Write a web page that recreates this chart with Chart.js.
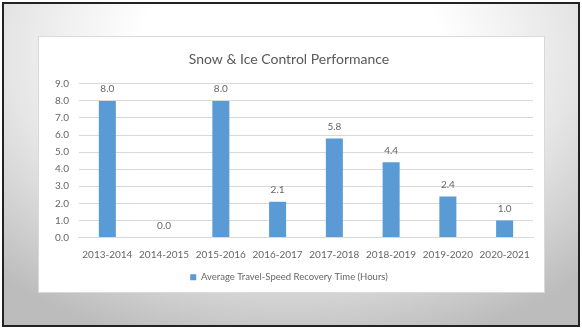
<!DOCTYPE html>
<html>
<head>
<meta charset="utf-8">
<script src="https://cdn.jsdelivr.net/npm/chart.js@4.4.0/dist/chart.umd.min.js"></script>
<style>
  html, body { margin: 0; padding: 0; }
  body {
    width: 582px; height: 330px; overflow: hidden; position: relative;
    background: #fff;
  }
  #frame {
    position: absolute; left: 2px; top: 2px; width: 574px; height: 321px;
    border: 2px solid #222;
    background: radial-gradient(ellipse 75% 95% at 50% 15%, #ffffff 35%, #e6e6e6 65%, #bcbcbc 100%);
  }
  #box {
    position: absolute; left: 38px; top: 36px; width: 505px; height: 255px;
    background: #fff; border: 1px solid #d9d9d9;
  }
</style>
</head>
<body>
<div id="frame"></div>
<div id="box"><canvas id="chart" width="505" height="255"></canvas></div>
<script>
const seasons = ['2013-2014', '2014-2015', '2015-2016', '2016-2017', '2017-2018', '2018-2019', '2019-2020', '2020-2021'];
const recoveryHours = [8.0, 0.0, 8.0, 2.1, 5.8, 4.4, 2.4, 1.0];
const seriesName = 'Average Travel-Speed Recovery Time (Hours)';
const chartTitle = 'Snow & Ice Control Performance';

const valueLabels = {
    id: 'valueLabels',
    afterDatasetsDraw(chart) {
        const ctx = chart.ctx;
        const meta = chart.getDatasetMeta(0);
        ctx.save();
        ctx.font = '10px Lato';
        ctx.fillStyle = '#666666';
        ctx.textAlign = 'center';
        ctx.textBaseline = 'middle';
        meta.data.forEach((bar, i) => {
            ctx.fillText(recoveryHours[i].toFixed(1), bar.x, bar.y - 12);
        });
        ctx.restore();
    }
};

const ctx = document.getElementById('chart').getContext('2d');
new Chart(ctx, {
    type: 'bar',
    data: {
        labels: seasons,
        datasets: [{
            label: seriesName,
            data: recoveryHours,
            backgroundColor: '#5b9bd5',
            barPercentage: 0.3,
            categoryPercentage: 1.0,
        }],
    },
    options: {
        responsive: false,
        animation: false,
        layout: { padding: { left: 6, right: 11, top: 8, bottom: 0 } },
        plugins: {
            title: {
                display: true,
                text: chartTitle,
                color: '#595959',
                font: { family: 'Lato', size: 14, weight: 'normal' },
                padding: { top: 6, bottom: 16 },
            },
            legend: {
                position: 'bottom',
                labels: {
                    boxWidth: 6, boxHeight: 6,
                    color: '#666666',
                    font: { family: 'Lato', size: 9.5 },
                    padding: 9,
                },
            },
            tooltip: { enabled: false },
        },
        scales: {
            x: {
                grid: { display: false },
                border: { color: '#d9d9d9' },
                ticks: { color: '#666666', font: { family: 'Lato', size: 10 }, maxRotation: 0, padding: 3 },
            },
            y: {
                min: 0, max: 9,
                grid: { color: '#d9d9d9', drawTicks: false },
                border: { display: false },
                ticks: {
                    stepSize: 1,
                    color: '#666666',
                    font: { family: 'Lato', size: 10 },
                    padding: 10,
                    callback: v => v.toFixed(1),
                },
            },
        },
    },
    plugins: [valueLabels],
});
</script>
</body>
</html>
